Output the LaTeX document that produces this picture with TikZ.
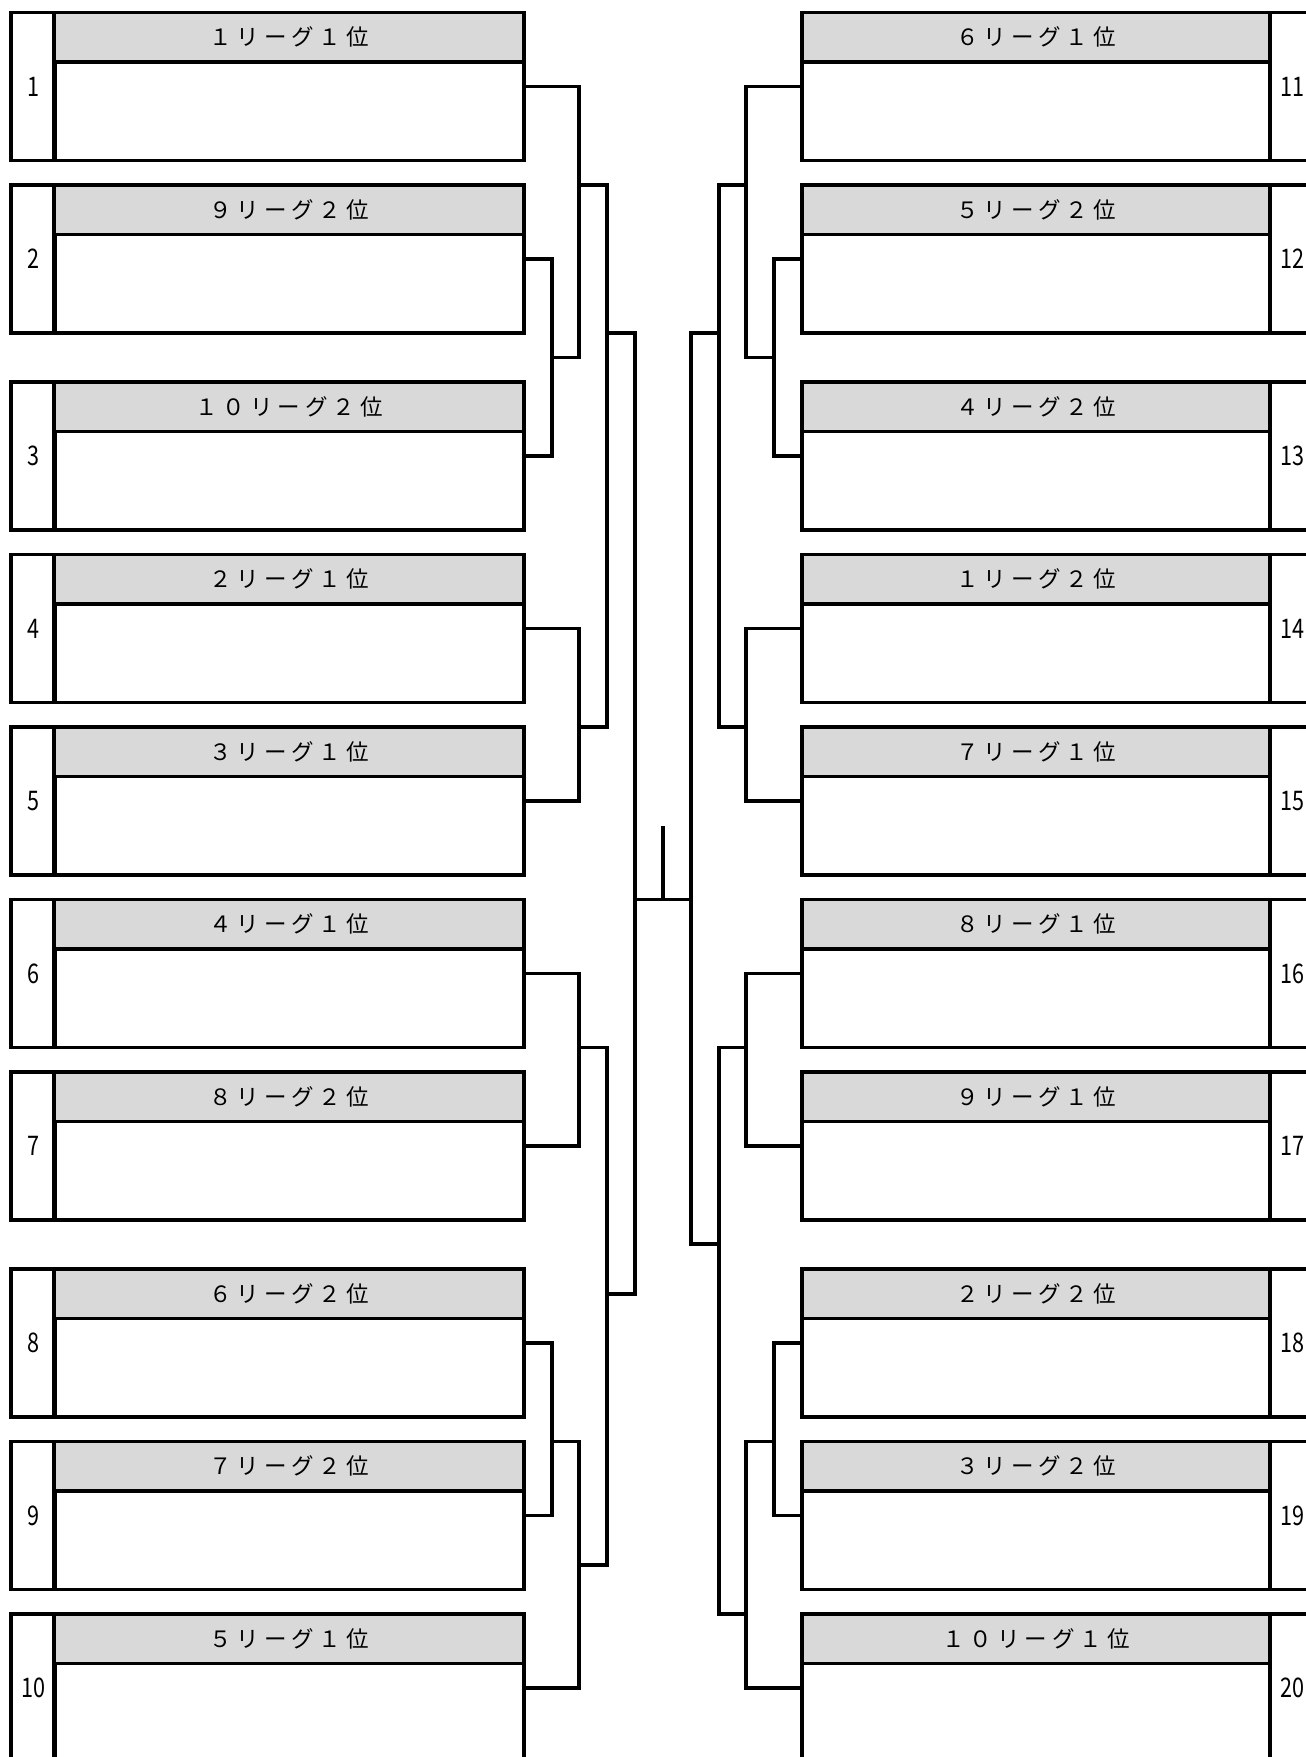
\documentclass[tikz,border=0pt]{standalone}
\usepackage{fontspec}
\usepackage{xcolor}
\usepackage{tikz}

\newfontfamily\hdfont[LetterSpace=22]{Noto Sans CJK JP}
\newfontfamily\numfont[FakeStretch=0.8]{Noto Sans CJK JP}
\definecolor{hdgray}{HTML}{D9D9D9}

\tikzset{
  numl/.style={draw, line width=3.2pt, minimum width=44pt, minimum height=148pt, inner sep=0pt,
    font=\fontsize{27}{30}\selectfont\numfont},
  numr/.style={numl, minimum width=45pt},
  entry/.style={draw, line width=3.2pt, minimum width=470pt, minimum height=148pt, inner sep=0pt},
  entryr/.style={entry, minimum width=468pt},
  hd/.style={draw, line width=3.2pt, fill=hdgray, minimum width=470pt, minimum height=49.5pt, inner sep=0pt,
    font=\fontsize{22.5}{26}\selectfont\hdfont},
  hdr/.style={hd, minimum width=468pt},
  link/.style={line width=3.2pt}
}

\begin{document}
\begin{tikzpicture}[x=1pt, y=-1pt]
\clip (0,0) rectangle (1306,1757);
% 左侧
\node[numl] (n1) at (33,86.5) {1};
\node[entry] (e1) at (289,86.5) {};
\node[hd] (h1) at (289,37.25) {１リーグ１位};
\node[numl] (n2) at (33,259) {2};
\node[entry] (e2) at (289,259) {};
\node[hd] (h2) at (289,209.75) {９リーグ２位};
\node[numl] (n3) at (33,456) {3};
\node[entry] (e3) at (289,456) {};
\node[hd] (h3) at (289,406.75) {１０リーグ２位};
\node[numl] (n4) at (33,628.5) {4};
\node[entry] (e4) at (289,628.5) {};
\node[hd] (h4) at (289,579.25) {２リーグ１位};
\node[numl] (n5) at (33,801) {5};
\node[entry] (e5) at (289,801) {};
\node[hd] (h5) at (289,751.75) {３リーグ１位};
\node[numl] (n6) at (33,973.5) {6};
\node[entry] (e6) at (289,973.5) {};
\node[hd] (h6) at (289,924.25) {４リーグ１位};
\node[numl] (n7) at (33,1146) {7};
\node[entry] (e7) at (289,1146) {};
\node[hd] (h7) at (289,1096.75) {８リーグ２位};
\node[numl] (n8) at (33,1343) {8};
\node[entry] (e8) at (289,1343) {};
\node[hd] (h8) at (289,1293.75) {６リーグ２位};
\node[numl] (n9) at (33,1515.5) {9};
\node[entry] (e9) at (289,1515.5) {};
\node[hd] (h9) at (289,1466.25) {７リーグ２位};
\node[numl] (n10) at (33,1688) {10};
\node[entry] (e10) at (289,1688) {};
\node[hd] (h10) at (289,1638.75) {５リーグ１位};
% 右侧
\node[numr] (n11) at (1292.5,86.5) {11};
\node[entryr] (e11) at (1036,86.5) {};
\node[hdr] (h11) at (1036,37.25) {６リーグ１位};
\node[numr] (n12) at (1292.5,259) {12};
\node[entryr] (e12) at (1036,259) {};
\node[hdr] (h12) at (1036,209.75) {５リーグ２位};
\node[numr] (n13) at (1292.5,456) {13};
\node[entryr] (e13) at (1036,456) {};
\node[hdr] (h13) at (1036,406.75) {４リーグ２位};
\node[numr] (n14) at (1292.5,628.5) {14};
\node[entryr] (e14) at (1036,628.5) {};
\node[hdr] (h14) at (1036,579.25) {１リーグ２位};
\node[numr] (n15) at (1292.5,801) {15};
\node[entryr] (e15) at (1036,801) {};
\node[hdr] (h15) at (1036,751.75) {７リーグ１位};
\node[numr] (n16) at (1292.5,973.5) {16};
\node[entryr] (e16) at (1036,973.5) {};
\node[hdr] (h16) at (1036,924.25) {８リーグ１位};
\node[numr] (n17) at (1292.5,1146) {17};
\node[entryr] (e17) at (1036,1146) {};
\node[hdr] (h17) at (1036,1096.75) {９リーグ１位};
\node[numr] (n18) at (1292.5,1343) {18};
\node[entryr] (e18) at (1036,1343) {};
\node[hdr] (h18) at (1036,1293.75) {２リーグ２位};
\node[numr] (n19) at (1292.5,1515.5) {19};
\node[entryr] (e19) at (1036,1515.5) {};
\node[hdr] (h19) at (1036,1466.25) {３リーグ２位};
\node[numr] (n20) at (1292.5,1688) {20};
\node[entryr] (e20) at (1036,1688) {};
\node[hdr] (h20) at (1036,1638.75) {１０リーグ１位};
% 连接点
\coordinate (m23) at (552,357.5);
\coordinate (m1) at (579,185);
\coordinate (m45) at (579,727);
\coordinate (mA) at (607,333);
\coordinate (m67) at (579,1047.5);
\coordinate (m89) at (552,1441.5);
\coordinate (m10) at (579,1565);
\coordinate (mB) at (607,1294);
\coordinate (mL) at (635,899.5);
\coordinate (r1213) at (774,357.5);
\coordinate (r11) at (746,185);
\coordinate (r1415) at (746,727);
\coordinate (rA) at (719,333);
\coordinate (r1617) at (746,1047.5);
\coordinate (r1819) at (774,1441.5);
\coordinate (r20) at (746,1614);
\coordinate (rB) at (719,1244);
\coordinate (mR) at (691,899.5);
\coordinate (win) at (663,826);
% 连线
\draw[link] (e2.east) -| (m23) |- (e3.east);
\draw[link] (e1.east) -| (m1) |- (m23);
\draw[link] (e4.east) -| (m45) |- (e5.east);
\draw[link] (m1) -| (mA) |- (m45);
\draw[link] (e6.east) -| (m67) |- (e7.east);
\draw[link] (e8.east) -| (m89) |- (e9.east);
\draw[link] (m89) -| (m10) |- (e10.east);
\draw[link] (m67) -| (mB) |- (m10);
\draw[link] (mA) -| (mL) |- (mB);
\draw[link] (e12.west) -| (r1213) |- (e13.west);
\draw[link] (e11.west) -| (r11) |- (r1213);
\draw[link] (e14.west) -| (r1415) |- (e15.west);
\draw[link] (r11) -| (rA) |- (r1415);
\draw[link] (e16.west) -| (r1617) |- (e17.west);
\draw[link] (e18.west) -| (r1819) |- (e19.west);
\draw[link] (r1819) -| (r20) |- (e20.west);
\draw[link] (r1617) -| (rB) |- (r20);
\draw[link] (rA) -| (mR) |- (rB);
\draw[link] (mL) -- (mR);
\draw[link] (win) -- (win |- mL);
\end{tikzpicture}
\end{document}
